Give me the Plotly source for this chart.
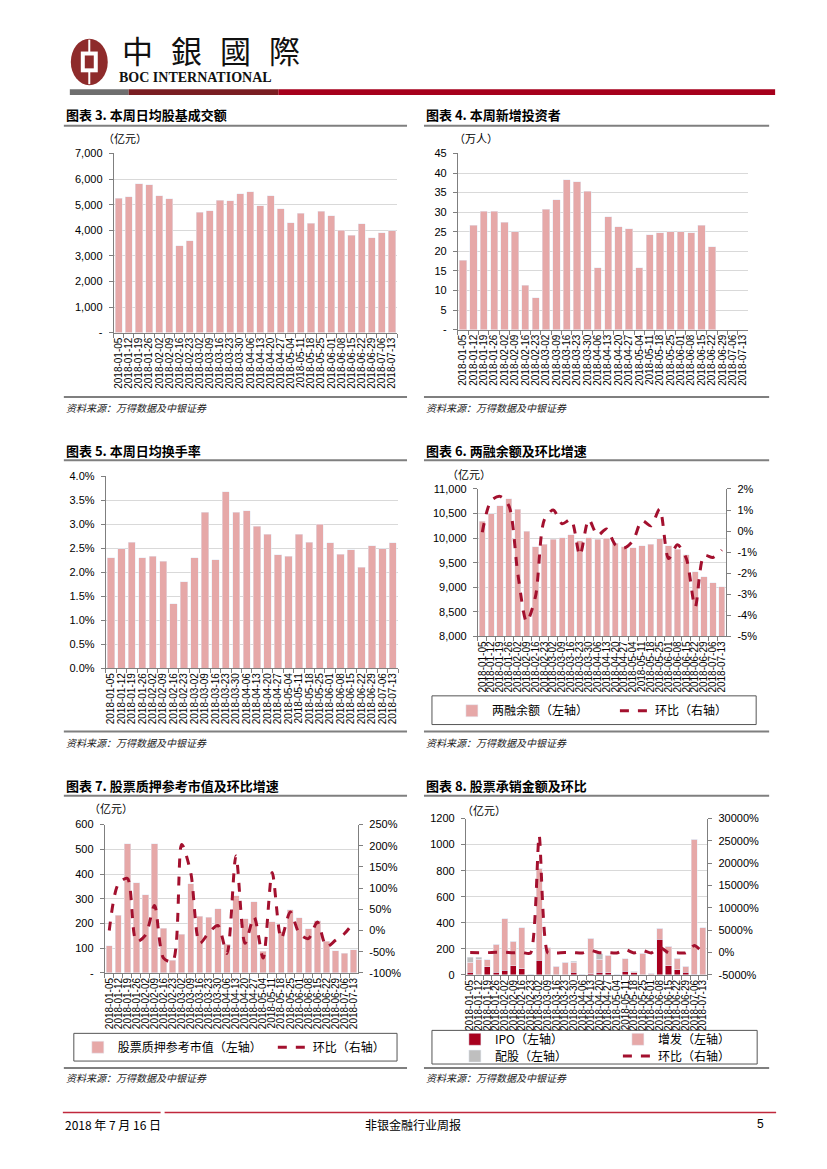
import plotly.graph_objects as go

W, H = 827, 1169

dates = ["2018-01-05", "2018-01-12", "2018-01-19", "2018-01-26", "2018-02-02", "2018-02-09",
         "2018-02-16", "2018-02-23", "2018-03-02", "2018-03-09", "2018-03-16", "2018-03-23",
         "2018-03-30", "2018-04-06", "2018-04-13", "2018-04-20", "2018-04-27", "2018-05-04",
         "2018-05-11", "2018-05-18", "2018-05-25", "2018-06-01", "2018-06-08", "2018-06-15",
         "2018-06-22", "2018-06-29", "2018-07-06", "2018-07-13"]

# 图表3 本周日均股基成交额（亿元）
turnover_amt = [5260, 5310, 5820, 5770, 5350, 5240, 3400, 3580, 4700, 4760, 5170, 5150,
                5430, 5510, 4950, 5350, 4840, 4300, 4670, 4270, 4750, 4560, 4000, 3800,
                4250, 3710, 3900, 3980]
# 图表4 本周新增投资者（万人）
new_investors = [17.7, 26.7, 30.3, 30.2, 27.4, 25.0, 11.3, 8.2, 30.7, 33.2, 38.3, 37.8,
                 35.3, 15.8, 28.9, 26.3, 25.8, 15.8, 24.2, 24.7, 25.0, 25.0, 24.7, 26.7,
                 21.2, None, None, None]
# 图表5 本周日均换手率（%）
turnover_rate = [2.30, 2.49, 2.62, 2.30, 2.33, 2.23, 1.34, 1.80, 2.30, 3.25, 2.26, 3.67,
                 3.25, 3.28, 2.96, 2.79, 2.36, 2.33, 2.79, 2.62, 3.00, 2.61, 2.37, 2.47,
                 2.10, 2.55, 2.49, 2.61]
# 图表6 两融余额（亿元）及环比（%）
margin_balance = [10347, 10495, 10663, 10798, 10583, 10138, 9821, 9875, 9976, 10010, 10070, 9950,
                  10010, 9980, 10000, 9900, 9830, 9800, 9850, 9875, 9990, 9850, 9770, 9660,
                  9315, 9210, 9090, 9010]
margin_mom = [-0.05, 1.45, 1.65, 1.2, -2.0, -4.3, -3.1, 0.55, 1.0, 0.35, 0.55, -1.15,
              0.55, -0.2, 0.1, -0.65, -0.8, -0.45, 0.5, 0.25, 1.05, -1.3, -0.65, -1.3,
              -3.6, -1.15, -1.25, -0.9]
# 图表7 股票质押参考市值（亿元）及环比（%）
pledge_value = [111, 233, 522, 365, 316, 522, 180, 52, 157, 360, 229, 225,
                260, 117, 313, 220, 287, 87, 207, 166, 256, 223, 178, 212,
                128, 89, 80, 93]
pledge_mom = [0, 110, 123, -26, -11, 59, -65, -73, 203, 137, -30, -5,
              12, -54, 176, -30, 32, -65, 137, -19, 44, -7, -19, 20,
              -38, -23, -7, 19]
# 图表8 股票承销金额（亿元）及环比（%）
ipo = [22, 0, 63, 22, 38, 69, 46, 4, 112, 0, 0, 0,
       22, 0, 8, 22, 15, 0, 30, 15, 0, 0, 274, 70,
       40, 20, 5, 0]
seo = [75, 120, 52, 215, 392, 191, 315, 1, 708, 208, 66, 97,
       75, 5, 272, 98, 137, 0, 94, 15, 168, 12, 83, 150,
       90, 48, 1035, 361]
rights = [40, 15, 0, 0, 0, 0, 0, 0, 0, 0, 0, 0,
          10, 0, 0, 43, 0, 0, 0, 0, 0, 0, 0, 0,
          0, 0, 0, 0]
uw_mom = [0, -10, -10, 100, 80, -40, 40, -98, 26200, -75, -70, 40,
          15, -90, 460, -40, -10, -99, 680, -75, 470, -90, 1200, -40,
          -40, -50, 1600, -65]

# tick labels
t3_vals = [0, 1000, 2000, 3000, 4000, 5000, 6000, 7000]
t3_text = ["-", "1,000", "2,000", "3,000", "4,000", "5,000", "6,000", "7,000"]
t4_vals = [0, 5, 10, 15, 20, 25, 30, 35, 40, 45]
t4_text = ["-", "5", "10", "15", "20", "25", "30", "35", "40", "45"]
t5_vals = [0, 0.5, 1.0, 1.5, 2.0, 2.5, 3.0, 3.5, 4.0]
t5_text = ["0.0%", "0.5%", "1.0%", "1.5%", "2.0%", "2.5%", "3.0%", "3.5%", "4.0%"]
t6l_vals = [8000, 8500, 9000, 9500, 10000, 10500, 11000]
t6l_text = ["8,000", "8,500", "9,000", "9,500", "10,000", "10,500", "11,000"]
t6r_vals = [-5, -4, -3, -2, -1, 0, 1, 2]
t6r_text = ["-5%", "-4%", "-3%", "-2%", "-1%", "0%", "1%", "2%"]
t7l_vals = [0, 100, 200, 300, 400, 500, 600]
t7l_text = ["-", "100", "200", "300", "400", "500", "600"]
t7r_vals = [-100, -50, 0, 50, 100, 150, 200, 250]
t7r_text = ["-100%", "-50%", "0%", "50%", "100%", "150%", "200%", "250%"]
t8l_vals = [0, 200, 400, 600, 800, 1000, 1200]
t8l_text = ["0", "200", "400", "600", "800", "1000", "1200"]
t8r_vals = [-5000, 0, 5000, 10000, 15000, 20000, 25000, 30000]
t8r_text = ["-5000%", "0%", "5000%", "10000%", "15000%", "20000%", "25000%", "30000%"]

PINK = "#E6A8A8"
DARKRED = "#A3102E"
IPO_C = "#A8001E"
GRAY = "#BFBFBF"
AXC = "#7F7F7F"
GRID = "#D9D9D9"
NUM_FONT = "Liberation Sans Narrow, Liberation Sans, Arial, sans-serif"
CJK = "Noto Sans CJK SC, sans-serif"


def X(px):
    return px / W


def Y(py):
    return 1 - py / H


def xax(x0, x1, anchor):
    return dict(domain=[X(x0), X(x1)], anchor=anchor, type="category",
                tickmode="array", tickvals=dates, ticktext=dates, tickangle=-90,
                tickfont=dict(family=NUM_FONT, size=10, color="#000"),
                showline=True, linecolor=AXC, linewidth=1, ticks="outside",
                tickson="boundaries", ticklen=4, tickcolor=AXC,
                showgrid=False, zeroline=False, fixedrange=True)


def yax(ybot, ytop, rng, vals, text, anchor, side="left", grid=True, overlaying=None):
    d = dict(range=rng, tickmode="array", tickvals=vals, ticktext=text,
             tickfont=dict(family=NUM_FONT, size=11, color="#000"),
             showline=True, linecolor=AXC, linewidth=1, ticks="outside", ticklen=4,
             tickcolor=AXC, showgrid=grid, gridcolor=GRID, gridwidth=1,
             zeroline=False, fixedrange=True, anchor=anchor, side=side,
             ticklabelstandoff=4)
    if overlaying:
        d["overlaying"] = overlaying
    else:
        d["domain"] = [Y(ybot), Y(ytop)]
    return d


fig = go.Figure()

# Chart 3
fig.add_trace(go.Bar(x=dates, y=turnover_amt, marker_color=PINK, xaxis="x", yaxis="y",
                     showlegend=False))
# Chart 4
fig.add_trace(go.Bar(x=dates, y=new_investors, marker_color=PINK, xaxis="x2", yaxis="y2",
                     showlegend=False))
# Chart 5
fig.add_trace(go.Bar(x=dates, y=turnover_rate, marker_color=PINK, xaxis="x3", yaxis="y3",
                     showlegend=False))
# Chart 6
fig.add_trace(go.Bar(x=dates, y=margin_balance, marker_color=PINK, xaxis="x4", yaxis="y4",
                     name="两融余额（左轴）", legend="legend"))
fig.add_trace(go.Scatter(x=dates, y=margin_mom, mode="lines", xaxis="x4", yaxis="y5",
                         line=dict(color=DARKRED, width=3, dash="dash", shape="spline", smoothing=0.8),
                         name="环比（右轴）", legend="legend"))
# Chart 7
fig.add_trace(go.Bar(x=dates, y=pledge_value, marker_color=PINK, xaxis="x5", yaxis="y6",
                     name="股票质押参考市值（左轴）", legend="legend2"))
fig.add_trace(go.Scatter(x=dates, y=pledge_mom, mode="lines", xaxis="x5", yaxis="y7",
                         line=dict(color=DARKRED, width=3, dash="dash", shape="spline", smoothing=0.8),
                         name="环比（右轴）", legend="legend2"))
# Chart 8
fig.add_trace(go.Bar(x=dates, y=ipo, marker_color=IPO_C, xaxis="x6", yaxis="y8",
                     name="IPO（左轴）", legend="legend3"))
fig.add_trace(go.Bar(x=dates, y=seo, marker_color=PINK, xaxis="x6", yaxis="y8",
                     name="增发（左轴）", legend="legend3"))
fig.add_trace(go.Bar(x=dates, y=rights, marker_color=GRAY, xaxis="x6", yaxis="y8",
                     name="配股（左轴）", legend="legend4"))
fig.add_trace(go.Scatter(x=dates, y=uw_mom, mode="lines", xaxis="x6", yaxis="y9",
                         line=dict(color=DARKRED, width=3, dash="dash", shape="spline", smoothing=0.6),
                         name="环比（右轴）", legend="legend4"))

layout = dict(
    width=W, height=H, margin=dict(l=0, r=0, t=0, b=0),
    paper_bgcolor="white", plot_bgcolor="white",
    barmode="stack", bargap=0.3, showlegend=True,
    font=dict(family=CJK, color="#000"),
    xaxis=xax(113, 397, "y"),
    yaxis=yax(330, 149, [0, 7000], t3_vals, t3_text, "x"),
    xaxis2=xax(458, 749, "y2"),
    yaxis2=yax(327, 149, [0, 45], t4_vals, t4_text, "x2"),
    xaxis3=xax(105, 398, "y3"),
    yaxis3=yax(669, 475, [0, 4.0], t5_vals, t5_text, "x3"),
    xaxis4=xax(478, 727, "y4"),
    yaxis4=yax(637, 488, [8000, 11000], t6l_vals, t6l_text, "x4"),
    yaxis5=yax(637, 488, [-5, 2], t6r_vals, t6r_text, "x4", side="right", grid=False, overlaying="y4"),
    xaxis5=xax(104, 358, "y6"),
    yaxis6=yax(977, 827, [0, 600], t7l_vals, t7l_text, "x5"),
    yaxis7=yax(977, 827, [-100, 250], t7r_vals, t7r_text, "x5", side="right", grid=False, overlaying="y6"),
    xaxis6=xax(466, 708, "y8"),
    yaxis8=yax(979, 821, [0, 1200], t8l_vals, t8l_text, "x6"),
    yaxis9=yax(979, 821, [-5000, 30000], t8r_vals, t8r_text, "x6", side="right", grid=False, overlaying="y8"),
)

leg_common = dict(orientation="h", xanchor="left", yanchor="middle", bgcolor="rgba(0,0,0,0)",
                  borderwidth=0, font=dict(family=CJK, size=12, color="#000"),
                  entrywidthmode="pixels", itemwidth=30, traceorder="normal")
layout["legend"] = dict(leg_common, x=X(452), y=Y(712), entrywidth=118)
layout["legend2"] = dict(leg_common, x=X(77), y=Y(1052), entrywidth=150)
layout["legend3"] = dict(leg_common, x=X(455), y=Y(1044), entrywidth=118)
layout["legend4"] = dict(leg_common, x=X(455), y=Y(1061), entrywidth=118)

fig.update_layout(**layout)

shapes = []
annotations = []


def hline(x0, x1, y, color, width):
    shapes.append(dict(type="line", xref="paper", yref="paper", x0=X(x0), x1=X(x1),
                       y0=Y(y), y1=Y(y), line=dict(color=color, width=width)))


def rect(x0, y0, x1, y1, fill, line=None, lw=0):
    shapes.append(dict(type="rect", xref="paper", yref="paper", x0=X(x0), x1=X(x1),
                       y0=Y(y1), y1=Y(y0), fillcolor=fill,
                       line=dict(color=line or fill, width=lw)))


def text(x, y, s, size=12, family=CJK, color="#000", xanchor="left", style="normal"):
    annotations.append(dict(x=X(x), y=Y(y), xref="paper", yref="paper", text=s, showarrow=False,
                            xanchor=xanchor, yanchor="middle",
                            font=dict(size=size, family=family, color=color, style=style)))


# Header logo
shapes.append(dict(type="circle", xref="paper", yref="paper", x0=X(70), x1=X(107),
                   y0=Y(80), y1=Y(33), fillcolor="#8E2B2B", line=dict(color="#8E2B2B", width=0)))
rect(80, 46, 97, 67, "white")
rect(84, 50, 93, 63, "#8E2B2B")
rect(87.5, 34, 89.5, 47, "white")
rect(87.5, 66, 89.5, 79, "white")
for ch, cx in zip(["中", "銀", "國", "際"], [137, 186, 235, 284]):
    text(cx, 44, ch, size=31, family="Noto Sans CJK TC, sans-serif", color="#111", xanchor="center")
text(116, 72, "<b>BOC INTERNATIONAL</b>", size=14, family="Liberation Serif, serif", color="#111")
rect(69, 84, 128, 90, "#6F6F6F")
rect(128, 84, 278, 90, "#7A1E22")
rect(278, 84, 776, 90, "#A6001C")

# Titles and frame lines
titles = [(63, 110, "图表 3. 本周日均股基成交额"), (424, 110, "图表 4. 本周新增投资者"),
          (63, 449, "图表 5. 本周日均换手率"), (424, 449, "图表 6. 两融余额及环比增速"),
          (63, 788, "图表 7. 股票质押参考市值及环比增速"), (424, 788, "图表 8. 股票承销金额及环比")]
for x, y, s in titles:
    text(x, y, "<b>" + s + "</b>", size=13)
for y in [121, 395, 459, 733, 798, 1073]:
    hline(63, 407, y, "#7F7F7F", 2)
    hline(424, 770, y, "#7F7F7F", 2)
for x, y in [(63, 406), (424, 406), (63, 744), (424, 744), (63, 1083), (424, 1083)]:
    text(x, y, "资料来源：万得数据及中银证券", size=10, color="#222", style="italic")

# Units
text(100, 133, "（亿元）", size=11)
text(452, 133, "（万人）", size=11)
text(445, 473, "（亿元）", size=11)
text(86, 810, "（亿元）", size=11)
text(460, 812, "（亿元）", size=11)

# Legend boxes
for x0, y0, x1, y1 in [(432, 697, 757, 726), (73, 1038, 397, 1066), (432, 1035, 758, 1069)]:
    rect(x0, y0, x1, y1, "rgba(0,0,0,0)", line="#555", lw=1)

# Footer
hline(62, 160, 1118, "#C0283C", 1.5)
hline(164, 777, 1118, "#C0283C", 1.5)
text(62, 1130, "2018 年 7 月 16 日", size=12, family="Liberation Sans Narrow, " + CJK)
text(413, 1130, "非银金融行业周报", size=12, xanchor="center")
text(767, 1130, "5", size=12, family="Liberation Sans Narrow, Liberation Sans", xanchor="right")

fig.update_layout(shapes=shapes, annotations=annotations)
fig.write_html("out.html", config={"displayModeBar": False},
               post_script="document.body.style.margin='0px';document.body.style.overflow='hidden';")
